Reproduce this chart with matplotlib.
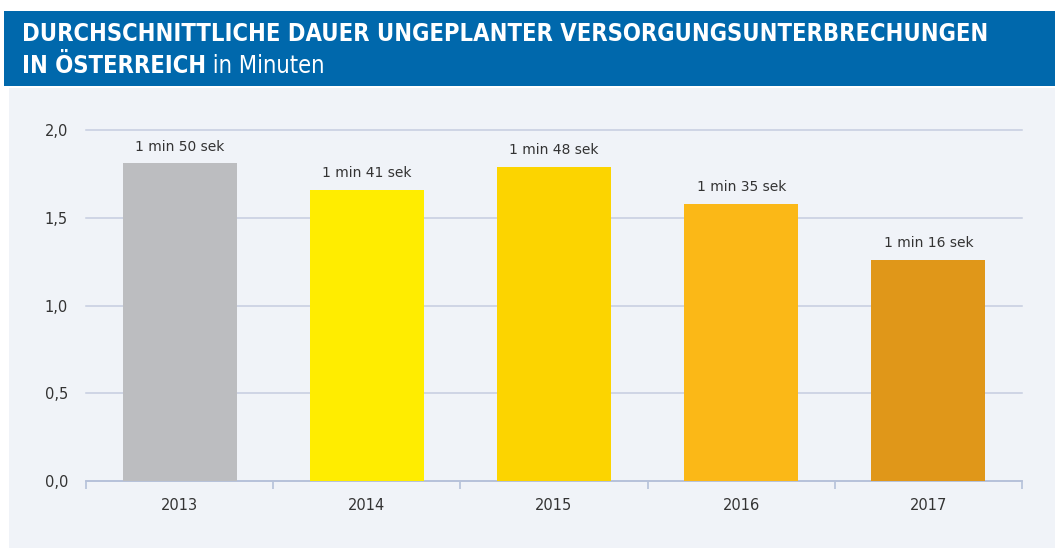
import matplotlib
matplotlib.use("Agg")
import matplotlib.pyplot as plt
from matplotlib.patches import Rectangle

years = ["2013", "2014", "2015", "2016", "2017"]
minutes = [1.81, 1.66, 1.79, 1.58, 1.26]
labels = ["1 min 50 sek", "1 min 41 sek", "1 min 48 sek", "1 min 35 sek", "1 min 16 sek"]
colors = ["#bcbdc0", "#ffed00", "#fcd400", "#fbb817", "#e09719"]
yticks = [0.0, 0.5, 1.0, 1.5, 2.0]

title_bold = "DURCHSCHNITTLICHE DAUER UNGEPLANTER VERSORGUNGSUNTERBRECHUNGEN"
title_bold2 = "IN ÖSTERREICH"
title_light = " in Minuten"

W, H = 1055, 550
fig = plt.figure(figsize=(W / 100, H / 100), dpi=100)
fig.patch.set_facecolor("white")

# background panels (figure pixel coords)
def px(x0, y0, x1, y1, color):
    fig.patches.append(Rectangle((x0 / W, 1 - y1 / H), (x1 - x0) / W, (y1 - y0) / H,
                                 transform=fig.transFigure, facecolor=color,
                                 edgecolor="none", zorder=-5))

px(4, 11, W, 86, "#0068ac")
px(9, 88, W, 548, "#f0f3f8")

fam = ["DejaVu Sans"]
t1 = fig.text(22 / W, 1 - 34 / H, title_bold, color="white", fontsize=17,
              fontweight="bold", family=fam, fontstretch="condensed",
              va="center", ha="left")
fig.canvas.draw()
# shrink title so the first line fits like the reference (ends near x=995)
w1 = t1.get_window_extent().width
fs = 17 * min(1.0, (995 - 22) / w1)
t1.set_fontsize(fs)
t = fig.text(22 / W, 1 - 66 / H, title_bold2, color="white", fontsize=fs,
             fontweight="bold", family=fam, fontstretch="condensed",
             va="center", ha="left")
fig.canvas.draw()
bb = t.get_window_extent()
fig.text(bb.x1 / W, 1 - 66 / H, title_light, color="white", fontsize=fs,
         family=fam, fontstretch="condensed", va="center", ha="left")

ax = fig.add_axes([86 / W, 1 - 481 / H, (1022 - 86) / W, (481 - 130) / H])
ax.set_facecolor("none")
ax.set_zorder(2)
x = list(range(len(years)))
ax.bar(x, minutes, width=0.61, color=colors, zorder=3)
for xi, v, lab in zip(x, minutes, labels):
    ax.text(xi, v + 0.055, lab, ha="center", va="bottom", fontsize=10,
            color="#333333", family="DejaVu Sans")

ax.set_xlim(-0.5, len(years) - 0.5)
ax.set_ylim(0, 2.0)
ax.set_yticks(yticks)
ax.set_yticklabels([f"{v:.1f}".replace(".", ",") for v in yticks])
ax.set_xticks(x)
ax.set_xticklabels(years)
ax.set_xticks([i - 0.5 for i in range(len(years) + 1)], minor=True)
ax.tick_params(axis="x", which="major", length=0, pad=12, labelsize=10.5, colors="#333333")
ax.tick_params(axis="x", which="minor", length=6, color="#b5c1d9", width=1.2)
ax.tick_params(axis="y", length=0, pad=13, labelsize=10.5, colors="#333333")
for s in ["top", "right", "left"]:
    ax.spines[s].set_visible(False)
ax.spines["bottom"].set_color("#b5c1d9")
ax.spines["bottom"].set_linewidth(1.3)
ax.yaxis.grid(True, color="#c5cde0", linewidth=1.1, zorder=0)
ax.set_axisbelow(True)
for gl in ax.get_ygridlines():
    gl.set_clip_on(False)

fig.savefig("out.png", dpi=100, facecolor=fig.get_facecolor())
